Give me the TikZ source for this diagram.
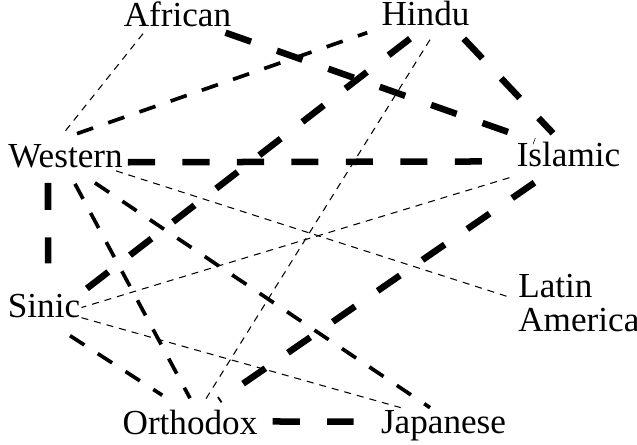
\documentclass[tikz,border=0pt]{standalone}
\usepackage{fontspec}
\setmainfont{Liberation Serif}

\begin{document}
\begin{tikzpicture}[
    civ/.style={inner sep=0pt, anchor=base, font=\fontsize{20}{19.4}\selectfont},
    weak/.style={line width=0.6pt, dash pattern=on 4pt off 3.4pt},
    moderate/.style={line width=2.1pt, dash pattern=on 9.7pt off 9.1pt},
    intense/.style={line width=3.7pt, dash pattern=on 15.4pt off 15.6pt}
]
    \useasboundingbox (0,0) rectangle (12.74,8.9);

    % civilisations
    \node[civ] (african) at (3.55, 8.36) {African};
    \node[civ] (hindu) at (8.51, 8.38) {Hindu};
    \node[civ] (western) at (1.31, 5.54) {Western};
    \node[civ] (islamic) at (11.37, 5.56) {Islamic};
    \node[civ] (sinic) at (0.88, 2.54) {Sinic};
    \node[civ, anchor=base west, align=left] (latin) at (10.36, 2.26) {Latin\\America};
    \node[civ] (orthodox) at (3.80, 0.20) {Orthodox};
    \node[civ] (japanese) at (8.87, 0.22) {Japanese};

    % weak relations
    \draw[weak] ([shift={(-0.69,-0.12)}]african.south) -- ([shift={(-0.03,0.24)}]western.north);
    \draw[weak] ([shift={(0.09,-0.26)}]hindu.south) -- ([shift={(0.3,0.2)}]orthodox.north);
    \draw[weak] ([shift={(-0.14,-0.04)}]western.south east) -- ([shift={(-0.12,0.68)}]latin.base west);
    \draw[weak] ([shift={(-0.14,-0.2)}]islamic.south west) -- ([shift={(0.02,-0.02)}]sinic.east);
    \draw[weak] ([shift={(0.02,0.02)}]sinic.south east) -- ([shift={(0.4,0.06)}]japanese.north west);

    % moderate relations
    \draw[moderate] ([shift={(0.23,0.22)}]western.north) -- ([shift={(-0.28,-0.12)}]hindu.south west);
    \draw[moderate] ([shift={(0.19,-0.3)}]western.south) -- ([shift={(0,0.24)}]orthodox.north);
    \draw[moderate] ([shift={(-0.56,-0.28)}]western.south east) -- ([shift={(-0.27,0.06)}]japanese.north);
    \draw[moderate] ([shift={(0.52,-0.34)}]sinic.south) -- ([shift={(0.8,0.3)}]orthodox.north west);

    % intense relations
    \draw[intense] ([shift={(-0.12,-0.1)}]african.south east) -- ([shift={(0.36,0.02)}]islamic.north west);
    \draw[intense] ([shift={(-0.12,-0.24)}]hindu.south east) -- ([shift={(-0.31,0.18)}]islamic.north);
    \draw[intense] ([shift={(-0.31,-0.24)}]hindu.south) -- ([shift={(0.08,0.08)}]sinic.north east);
    \draw[intense] ([shift={(0.1,-0.11)}]western.east) -- ([shift={(-0.66,-0.13)}]islamic.west);
    \draw[intense] ([shift={(-0.35,-0.28)}]western.south) -- ([shift={(0.08,0.62)}]sinic.north);
    \draw[intense] ([shift={(0.36,-0.3)}]islamic.south west) -- ([shift={(0.58,0.2)}]orthodox.north);
    \draw[intense] ([shift={(0.3,0.03)}]orthodox.east) -- ([shift={(-0.54,0.09)}]japanese.west);
\end{tikzpicture}
\end{document}
